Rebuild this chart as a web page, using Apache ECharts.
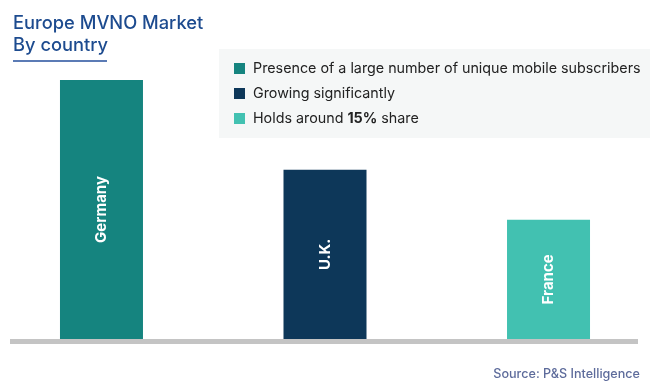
<!DOCTYPE html>
<html>
<head>
<meta charset="utf-8">
<script src="https://cdn.jsdelivr.net/npm/echarts@6/dist/echarts.min.js"></script>
<style>
html,body{margin:0;padding:0;background:#fff;}
#chart{width:650px;height:390px;}
</style>
</head>
<body>
<div id="chart"></div>
<script>
const categories = ['Germany', 'U.K.', 'France'];
const values = [32.6, 21.3, 15.0];
const legendNames = [
  'Presence of a large number of unique mobile subscribers',
  'Growing significantly',
  'Holds around 15% share'
];
const colors = ['#15847f', '#0d3759', '#42c1b1'];

const FONT = 'Inter, "Noto Sans", sans-serif';
const chart = echarts.init(document.getElementById('chart'), null, {renderer: 'canvas'});

const series = legendNames.map((name, i) => ({
  name: name,
  type: 'bar',
  barWidth: 83,
  barGap: '-100%',
  itemStyle: {color: colors[i]},
  label: {
    show: true,
    position: 'inside',
    rotate: 90,
    color: '#ffffff',
    fontFamily: FONT,
    fontSize: 15,
    fontWeight: 'bold',
    formatter: p => categories[p.value[0]]
  },
  data: [[i, values[i]]]
}));

chart.setOption({
  animation: false,
  backgroundColor: '#ffffff',
  title: {
    text: 'Europe MVNO Market\nBy country',
    left: 8,
    top: 8,
    textStyle: {
      fontFamily: FONT,
      fontSize: 18.3,
      fontWeight: 500,
      color: '#1d4b8f',
      lineHeight: 22
    }
  },
  graphic: [
    {type: 'rect', z: -1, shape: {x: 219, y: 49, width: 431, height: 89}, style: {fill: '#f5f7f7'}},
    {type: 'rect', shape: {x: 13, y: 60, width: 94, height: 2}, style: {fill: '#5b7bb5'}},
    {type: 'rect', shape: {x: 10, y: 339, width: 628, height: 5}, style: {fill: '#c4c4c4'}},
    {type: 'text', right: 10, top: 368, style: {text: 'Source: P&S Intelligence', fill: '#5d6b9b', fontFamily: FONT, fontSize: 12.6, fontWeight: 500}}
  ],
  legend: {
    orient: 'vertical',
    left: 229,
    top: 55,
    itemWidth: 11,
    itemHeight: 11,
    itemGap: 8,
    icon: 'rect',
    data: legendNames,
    formatter: name => name === legendNames[2] ? '{a|Holds around }{b|15%}{a| share}' : name,
    textStyle: {
      fontFamily: FONT,
      fontSize: 14.3,
      color: '#222222',
      lineHeight: 17,
      padding: [0, 0, 0, 3],
      rich: {
        a: {fontFamily: FONT, fontSize: 14.3, color: '#222222'},
        b: {fontFamily: FONT, fontSize: 14.3, color: '#222222', fontWeight: 'bold'}
      }
    }
  },
  grid: {left: 0, right: 0, top: 21.2, bottom: 51, containLabel: false},
  xAxis: {
    type: 'value',
    min: -0.454,
    max: 2.454,
    show: false,
    splitLine: {show: false}
  },
  yAxis: {
    type: 'value',
    min: 0,
    max: 40,
    show: false,
    splitLine: {show: false}
  },
  series: series
});
</script>
</body>
</html>
